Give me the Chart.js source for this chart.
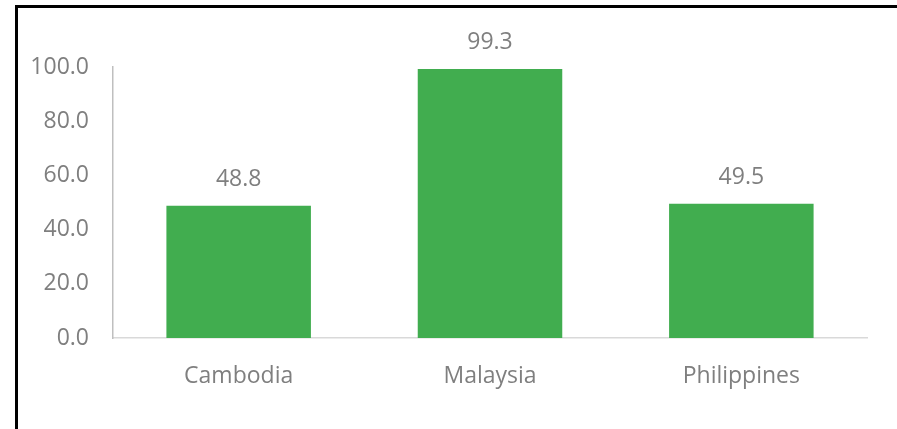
<!DOCTYPE html>
<html>
<head>
<meta charset="utf-8">
<script src="https://cdn.jsdelivr.net/npm/chart.js@4"></script>
<style>
  html, body { margin: 0; padding: 0; background: #fff; }
  #wrap { position: relative; width: 897px; height: 429px; overflow: hidden; }
  #frame { position: absolute; left: 15px; top: 5px; width: 900px; height: 440px;
           border-left: 3px solid #000; border-top: 3px solid #000; }
  canvas { position: absolute; left: 0; top: 0; }
</style>
</head>
<body>
<div id="wrap">
  <div id="frame"></div>
  <canvas id="chart" width="897" height="429"></canvas>
</div>
<script>
const COUNTRIES = ["Cambodia", "Malaysia", "Philippines"];
const VALUES = [48.8, 99.3, 49.5];
const Y_TICKS = [0, 20, 40, 60, 80, 100];

const BAR_COLOR = "#41ad4f";
const TEXT_COLOR = "#7f7f7f";
const FONT = "'Open Sans', sans-serif";

// draws the number above each bar
const valueLabels = {
    id: "valueLabels",
    afterDatasetsDraw(chart) {
        const ctx = chart.ctx;
        const meta = chart.getDatasetMeta(0);
        ctx.save();
        ctx.font = "23px " + FONT;
        ctx.fillStyle = TEXT_COLOR;
        ctx.textAlign = "center";
        ctx.textBaseline = "middle";
        meta.data.forEach((bar, i) => {
            ctx.fillText(VALUES[i].toFixed(1), bar.x, bar.y - 26);
        });
        ctx.restore();
    }
};

const ctx = document.getElementById("chart").getContext("2d");
new Chart(ctx, {
    type: "bar",
    data: {
        labels: COUNTRIES,
        datasets: [{
            data: VALUES,
            backgroundColor: BAR_COLOR,
            borderWidth: 0,
            categoryPercentage: 1,
            barPercentage: 0.575
        }]
    },
    options: {
        responsive: false,
        animation: false,
        layout: { padding: { top: 67, right: 30, left: 0, bottom: 0 } },
        plugins: {
            legend: { display: false },
            tooltip: { enabled: false }
        },
        scales: {
            x: {
                grid: { display: false, drawTicks: false },
                border: { color: "#d9d9d9", width: 1.5 },
                ticks: {
                    color: TEXT_COLOR,
                    font: { family: FONT, size: 23 },
                    padding: 25
                },
                afterFit(scale) { scale.height = 91; }
            },
            y: {
                min: 0,
                max: 100,
                grid: { display: false, drawTicks: false },
                border: { color: "#bfbfbf", width: 1.5 },
                afterBuildTicks(scale) {
                    scale.ticks = Y_TICKS.map(v => ({ value: v }));
                },
                ticks: {
                    color: TEXT_COLOR,
                    font: { family: FONT, size: 23 },
                    padding: 24,
                    callback: v => Number(v).toFixed(1)
                },
                afterFit(scale) { scale.width = 113; }
            }
        }
    },
    plugins: [valueLabels]
});
</script>
</body>
</html>
